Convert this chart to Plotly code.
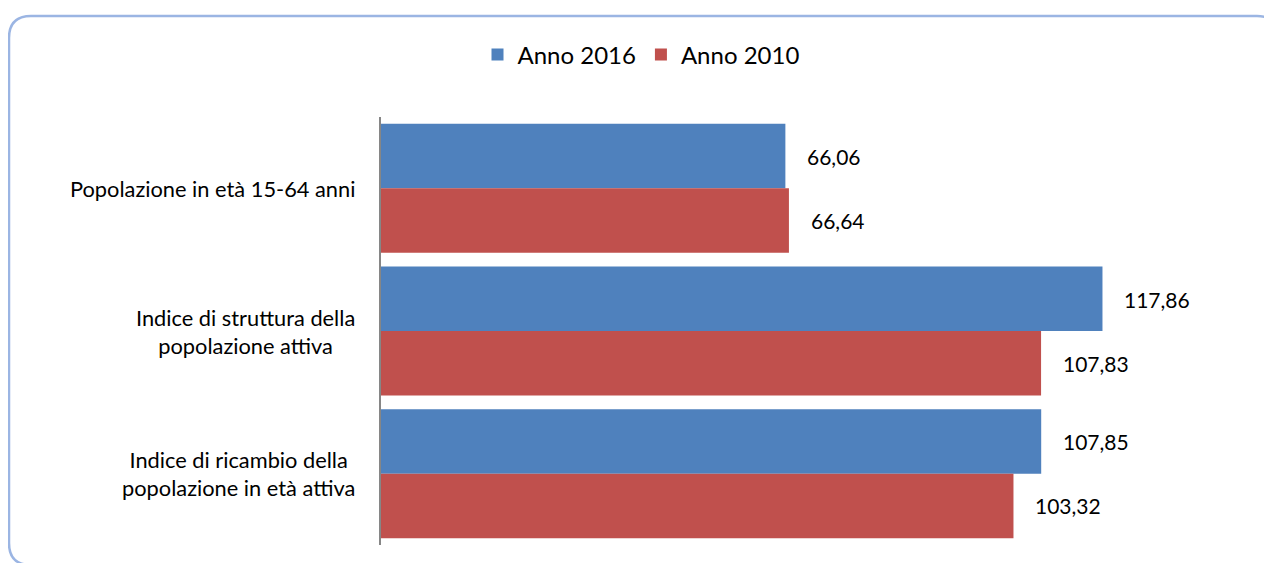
import plotly.graph_objects as go

categories = [
    "Popolazione in età 15-64 anni",
    "Indice di struttura della<br>popolazione attiva",
    "Indice di ricambio della<br>popolazione in età attiva",
]
series_names = ["Anno 2016", "Anno 2010"]
values_2016 = [66.06, 117.86, 107.85]
values_2010 = [66.64, 107.83, 103.32]
colors = ["#4F81BD", "#C0504D"]

FONT = "Lato, Noto Sans"
W, H = 1272, 563
OFF = 8  # page body margin
ML, MR, MT, MB = 381 - OFF, 34 + OFF, 117 - OFF, 18 + OFF
pw, ph = W - ML - MR, H - MT - MB

def px_to_paper(x, y):
    # x, y in screenshot pixels
    x -= OFF
    y -= OFF
    return (x - ML) / pw, (H - MB - y) / ph

fig = go.Figure()
for name, vals, col in zip(series_names, [values_2016, values_2010], colors):
    fig.add_trace(go.Bar(
        y=categories, x=vals, name=name, orientation="h",
        marker=dict(color=col, line=dict(width=0)),
    ))

fmt = lambda v: f"{v:.2f}".replace(".", ",")
for i, vals in enumerate([values_2016, values_2010]):
    shift = 32 if i == 0 else -32
    for c, v in zip(categories, vals):
        fig.add_annotation(x=v, y=c, text=fmt(v), showarrow=False,
                           xanchor="left", xshift=20, yshift=shift,
                           font=dict(family=FONT, size=21, color="#000"))

# category labels (centered multi-line)
for c in categories:
    fig.add_annotation(x=0, y=c, text=c, showarrow=False, xanchor="right",
                       xshift=-24, align="center", yanchor="middle",
                       font=dict(family=FONT, size=21.8, color="#000"))

# rounded border
x0, y0 = px_to_paper(9, 16)
x1, y1 = px_to_paper(1279, 565)
rx = 22 / pw
ry = 22 / ph
path = (f"M {x0+rx},{y0} L {x1-rx},{y0} Q {x1},{y0} {x1},{y0-ry} "
        f"L {x1},{y1+ry} Q {x1},{y1} {x1-rx},{y1} L {x0+rx},{y1} "
        f"Q {x0},{y1} {x0},{y1+ry} L {x0},{y0-ry} Q {x0},{y0} {x0+rx},{y0} Z")
fig.add_shape(type="path", path=path, xref="paper", yref="paper",
              line=dict(color="#9BB5E3", width=2.5), layer="below")

lx, ly = px_to_paper(641, 55)
fig.update_layout(
    width=W, height=H,
    margin=dict(l=ML, r=MR, t=MT, b=MB),
    paper_bgcolor="white", plot_bgcolor="white",
    barmode="group", bargap=0.096, bargroupgap=0,
    font=dict(family=FONT, size=21, color="#000"),
    showlegend=True,
    legend=dict(orientation="h", x=lx, y=ly, xanchor="center", yanchor="middle",
                font=dict(size=24), traceorder="normal", itemwidth=30,
                bgcolor="rgba(0,0,0,0)"),
    xaxis=dict(range=[0, 140], showgrid=False, showticklabels=False,
               zeroline=False, showline=False, ticks=""),
    yaxis=dict(autorange="reversed", showgrid=False, showline=True,
               linecolor="#868686", linewidth=2, ticks="",
               showticklabels=False),
)
fig.write_html("out.html")
